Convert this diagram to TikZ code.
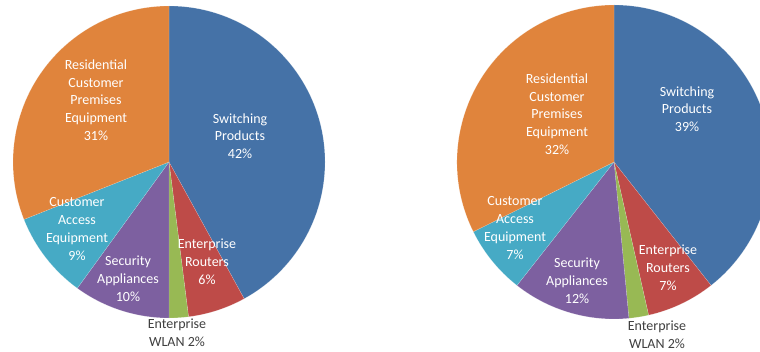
\documentclass[tikz,border=0pt]{standalone}
\usepackage{fontspec}
\setmainfont{Carlito}
\definecolor{cBlue}{HTML}{4572A7}
\definecolor{cRed}{HTML}{BE4B48}
\definecolor{cGreen}{HTML}{98B954}
\definecolor{cPurple}{HTML}{7D60A0}
\definecolor{cCyan}{HTML}{46AAC5}
\definecolor{cOrange}{HTML}{E0843C}
\definecolor{cText}{HTML}{404040}
\tikzset{
  lbl/.style={align=center, text=white, font=\fontsize{14}{17.8}\selectfont, inner sep=0pt},
  outlbl/.style={lbl, text=cText},
  slice/.style={draw=white, draw opacity=0.35, line width=0.3pt}
}
\newcommand{\pieslice}[5]{% center, r, a1, a2, color
  \fill[slice, fill=#5] (#1) -- ++(#3:#2) arc[start angle=#3, end angle=#4, radius=#2] -- cycle;
}
\begin{document}
\begin{tikzpicture}[x=1pt,y=1pt]
\useasboundingbox (0,0) rectangle (760,351);
\fill[white] (0,0) rectangle (760,351);
% left pie
\coordinate (L) at (169,189);
\pieslice{L}{156pt}{90}{-61.2}{cBlue}
\pieslice{L}{156pt}{-61.2}{-82.8}{cRed}
\pieslice{L}{156pt}{-82.8}{-90}{cGreen}
\pieslice{L}{156pt}{-90}{-126}{cPurple}
\pieslice{L}{156pt}{-126}{-158.4}{cCyan}
\pieslice{L}{156pt}{-158.4}{-270}{cOrange}
\node[lbl] (lres) at (96,251) {Residential\\Customer\\Premises\\Equipment\\31\%};
\node[lbl] (lsw) at (240,215) {Switching\\Products\\42\%};
\node[lbl] (lca) at (77,122) {Customer\\Access\\Equipment\\9\%};
\node[lbl] (lsec) at (128,72) {Security\\Appliances\\10\%};
\node[lbl] (lrt) at (207,89) {Enterprise\\Routers\\6\%};
\node[outlbl] (lwl) at (177,18) {Enterprise\\WLAN 2\%};
% right pie
\coordinate (R) at (614,189);
\pieslice{R}{157pt}{90}{-51.82}{cBlue}
\pieslice{R}{157pt}{-51.82}{-77.27}{cRed}
\pieslice{R}{157pt}{-77.27}{-84.55}{cGreen}
\pieslice{R}{157pt}{-84.55}{-128.18}{cPurple}
\pieslice{R}{157pt}{-128.18}{-153.64}{cCyan}
\pieslice{R}{157pt}{-153.64}{-270}{cOrange}
\node[lbl] (rres) at (557,237) {Residential\\Customer\\Premises\\Equipment\\32\%};
\node[lbl] (rsw) at (687,242) {Switching\\Products\\39\%};
\node[lbl] (rca) at (515,123) {Customer\\Access\\Equipment\\7\%};
\node[lbl] (rsec) at (577,70) {Security\\Appliances\\12\%};
\node[lbl] (rrt) at (668,83) {Enterprise\\Routers\\7\%};
\node[outlbl] (rwl) at (657,16) {Enterprise\\WLAN 2\%};
\end{tikzpicture}
\end{document}
